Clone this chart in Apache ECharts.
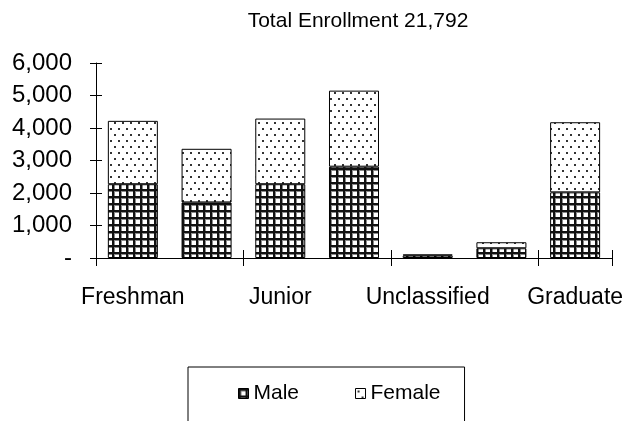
<!DOCTYPE html>
<html>
<head>
<meta charset="utf-8">
<script src="https://cdn.jsdelivr.net/npm/echarts@6/dist/echarts.min.js"></script>
<style>
  html, body { margin: 0; padding: 0; background: #fff; }
  #chart { width: 626px; height: 421px; }
</style>
</head>
<body>
<div id="chart"></div>
<script>
// enrollment by class level
const categories = ['Freshman', 'Sophomore', 'Junior', 'Senior', 'Unclassified', 'Post-Bacc', 'Graduate'];
const male = [2270, 1710, 2270, 2810, 75, 300, 2020];
const female = [1950, 1650, 2020, 2340, 35, 185, 2157];
const yTicks = [0, 1000, 2000, 3000, 4000, 5000, 6000];

// grid hatch for male
function gridPattern() {
    let c = document.createElement('canvas');
    c.width = 7; c.height = 7;
    let ctx = c.getContext('2d');
    ctx.fillStyle = '#fff';
    ctx.fillRect(0, 0, 7, 7);
    ctx.fillStyle = '#111';
    ctx.fillRect(0, 0, 2, 7);
    ctx.fillRect(0, 0, 7, 2);
    ctx.fillStyle = '#888';
    ctx.fillRect(2, 2, 1, 5);
    ctx.fillRect(2, 2, 5, 1);
    return c;
}

// sparse dots for female
function dotPattern() {
    let c = document.createElement('canvas');
    c.width = 8; c.height = 12;
    let ctx = c.getContext('2d');
    ctx.fillStyle = '#fff';
    ctx.fillRect(0, 0, 8, 12);
    ctx.fillStyle = '#333';
    ctx.fillRect(2, 2, 2, 2);
    ctx.fillRect(6, 8, 2, 2);
    return c;
}

const malePat = { image: gridPattern(), repeat: 'repeat' };
const femalePat = { image: dotPattern(), repeat: 'repeat' };

let chart = echarts.init(document.getElementById('chart'));

let option = {
    animation: false,
    backgroundColor: '#fff',
    textStyle: { fontFamily: 'Liberation Sans, Arial', color: '#000' },
    title: {
        text: 'Total Enrollment 21,792',
        left: 353,
        textAlign: 'center',
        top: 6,
        textStyle: { fontSize: 21, fontWeight: 'normal', color: '#000', fontFamily: 'Liberation Sans' }
    },
    legend: {
        data: ['Male', 'Female'],
        icon: 'rect',
        left: 188,
        top: 367,
        padding: [16, 24, 30, 50],
        itemGap: 56,
        itemWidth: 10,
        itemHeight: 10,
        itemStyle: { borderColor: '#000', borderWidth: 1 },
        borderColor: '#000',
        borderWidth: 1,
        textStyle: { fontSize: 21, color: '#000', fontFamily: 'Liberation Sans' }
    },
    grid: { left: 96, right: 13, top: 63, bottom: 163 },
    xAxis: [{
        type: 'category',
        data: categories,
        axisLine: { lineStyle: { color: '#000', width: 1 } },
        axisTick: { show: true, length: 8, lineStyle: { color: '#000' } },
        axisLabel: { interval: 1, fontSize: 23, color: '#000', margin: 28, fontFamily: 'Liberation Sans' }
    }, {
        type: 'category',
        data: categories,
        position: 'bottom',
        axisLine: { show: false },
        axisTick: { show: true, inside: true, length: 8, lineStyle: { color: '#000' } },
        axisLabel: { show: false }
    }],
    yAxis: [{
        type: 'value',
        min: yTicks[0],
        max: yTicks[yTicks.length - 1],
        interval: 1000,
        splitLine: { show: false },
        axisLine: { show: true, lineStyle: { color: '#000' } },
        axisTick: { show: true, length: 6, lineStyle: { color: '#000' } },
        axisLabel: {
            fontSize: 24, color: '#000', margin: 24, fontFamily: 'Liberation Sans',
            formatter: v => v === 0 ? '-' : v.toLocaleString('en-US')
        }
    }, {
        type: 'value',
        position: 'left',
        min: yTicks[0],
        max: yTicks[yTicks.length - 1],
        interval: 1000,
        splitLine: { show: false },
        axisLine: { show: false },
        axisTick: { show: true, inside: true, length: 6, lineStyle: { color: '#000' } },
        axisLabel: { show: false }
    }],
    series: [
        {
            name: 'Male',
            type: 'bar',
            stack: 'total',
            barWidth: 50,
            data: male,
            itemStyle: { color: malePat, borderColor: '#000', borderWidth: 1 }
        },
        {
            name: 'Female',
            type: 'bar',
            stack: 'total',
            barWidth: 50,
            data: female,
            itemStyle: { color: femalePat, borderColor: '#000', borderWidth: 1 }
        }
    ]
};

chart.setOption(option);
</script>
</body>
</html>
